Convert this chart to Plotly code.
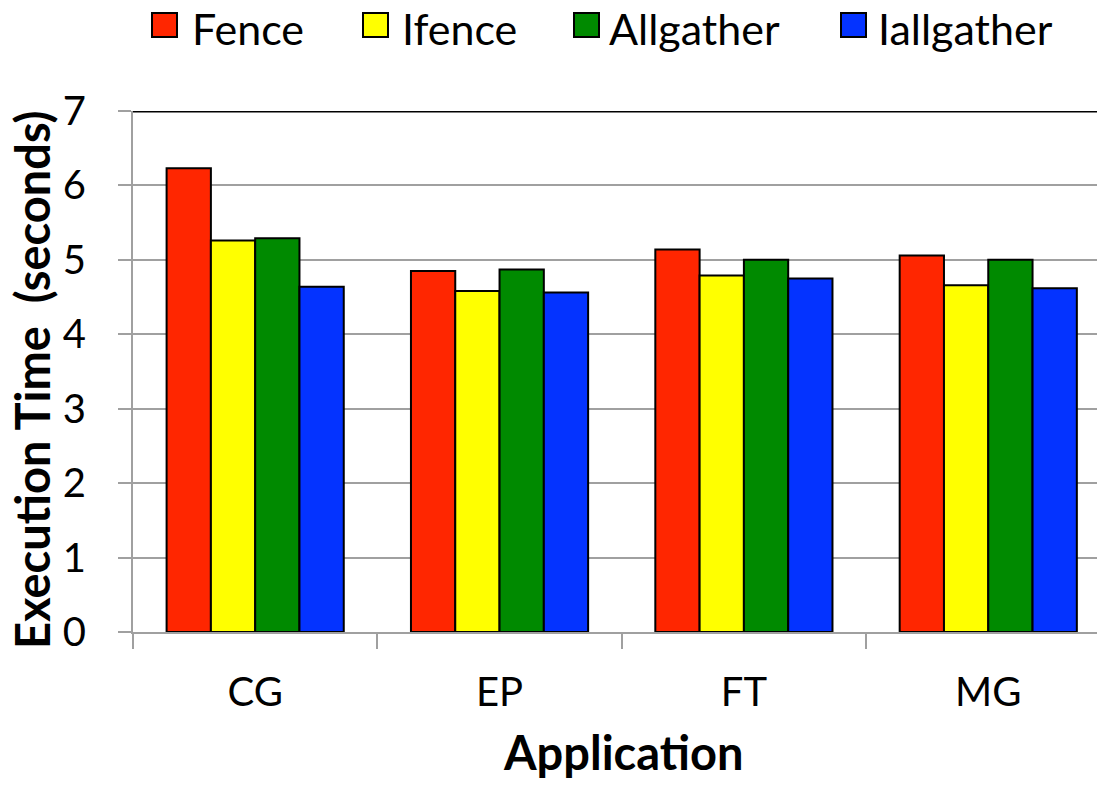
import plotly.graph_objects as go

apps = ["CG", "EP", "FT", "MG"]
series_names = ["Fence", "Ifence", "Allgather", "Iallgather"]
fence = [6.23, 4.85, 5.14, 5.06]
ifence = [5.26, 4.58, 4.79, 4.66]
allgather = [5.29, 4.87, 5.00, 5.00]
iallgather = [4.64, 4.56, 4.75, 4.62]
colors = ["#ff2600", "#ffff00", "#008a00", "#0433ff"]
y_ticks = [0, 1, 2, 3, 4, 5, 6, 7]

FONT = "Lato, 'Open Sans', sans-serif"

W, H = 1097, 785
ML, MR, MT, MB = 133, 0, 111, 153
PW, PH = W - ML - MR, H - MT - MB


def px_x(px):
    return (px - ML) / PW


def px_y(py):
    return (H - MB - py) / PH


fig = go.Figure()
for name, vals, col in zip(series_names, [fence, ifence, allgather, iallgather], colors):
    fig.add_trace(go.Bar(
        x=apps, y=vals, name=name, showlegend=False,
        marker=dict(color=col, line=dict(color="black", width=2)),
    ))

# legend drawn as boxes + labels
legend_box_left = [152, 363, 574, 841]
legend_text_left = [192, 402, 609, 878]
shapes = []
annotations = []
for name, col, bx, tx in zip(series_names, colors, legend_box_left, legend_text_left):
    shapes.append(dict(type="rect", xref="paper", yref="paper",
                       x0=px_x(bx), x1=px_x(bx + 25), y0=px_y(37), y1=px_y(13),
                       fillcolor=col, line=dict(color="black", width=2)))
    annotations.append(dict(text=name, xref="paper", yref="paper",
                            x=px_x(tx - 2), y=px_y(28), xanchor="left", yanchor="middle",
                            showarrow=False, font=dict(family=FONT, size=43, color="black")))

shapes.append(dict(type="line", xref="paper", yref="y", x0=0, x1=1, y0=7, y1=7,
                   line=dict(color="black", width=3)))

annotations.append(dict(text="<b>Application</b>", xref="paper", yref="paper",
                        x=px_x(623), y=px_y(752), xanchor="center", yanchor="middle",
                        showarrow=False, font=dict(family=FONT, size=47, color="black")))
annotations.append(dict(text="<b>Execution Time  (seconds)</b>", xref="paper", yref="paper",
                        x=px_x(32), y=px_y(380), xanchor="center", yanchor="middle",
                        textangle=-90,
                        showarrow=False, font=dict(family=FONT, size=47, color="black")))

fig.update_layout(
    width=W, height=H,
    paper_bgcolor="white", plot_bgcolor="white",
    margin=dict(l=ML, r=MR, t=MT, b=MB),
    barmode="group", bargap=0.275, bargroupgap=0,
    font=dict(family=FONT, size=38, color="black"),
    showlegend=False,
    xaxis=dict(
        type="category", automargin=False,
        range=[-0.5, 3.445],
        showgrid=False,
        showline=True, linecolor="#a0a0a0", linewidth=2,
        ticks="outside", tickson="boundaries", ticklen=15, tickwidth=2, tickcolor="#a0a0a0",
        tickfont=dict(family=FONT, size=40),
        ticklabelstandoff=24,
    ),
    yaxis=dict(
        range=[0, 7], tickvals=y_ticks, automargin=False,
        showgrid=True, gridcolor="#a0a0a0", gridwidth=2,
        showline=True, linecolor="#a0a0a0", linewidth=2,
        ticks="outside", ticklen=13, tickwidth=2, tickcolor="#a0a0a0",
        tickfont=dict(family=FONT, size=40),
        ticklabelstandoff=24,
        zeroline=False,
    ),
    shapes=shapes,
    annotations=annotations,
)

fig.write_html("out.html", config={"displayModeBar": False})

# remove the default 8px body margin so the figure fills the window exactly
with open("out.html", "r", encoding="utf-8") as f:
    html = f.read()
html = html.replace("<head>", "<head><style>html,body{margin:0;padding:0;overflow:hidden;}</style>", 1)
with open("out.html", "w", encoding="utf-8") as f:
    f.write(html)
